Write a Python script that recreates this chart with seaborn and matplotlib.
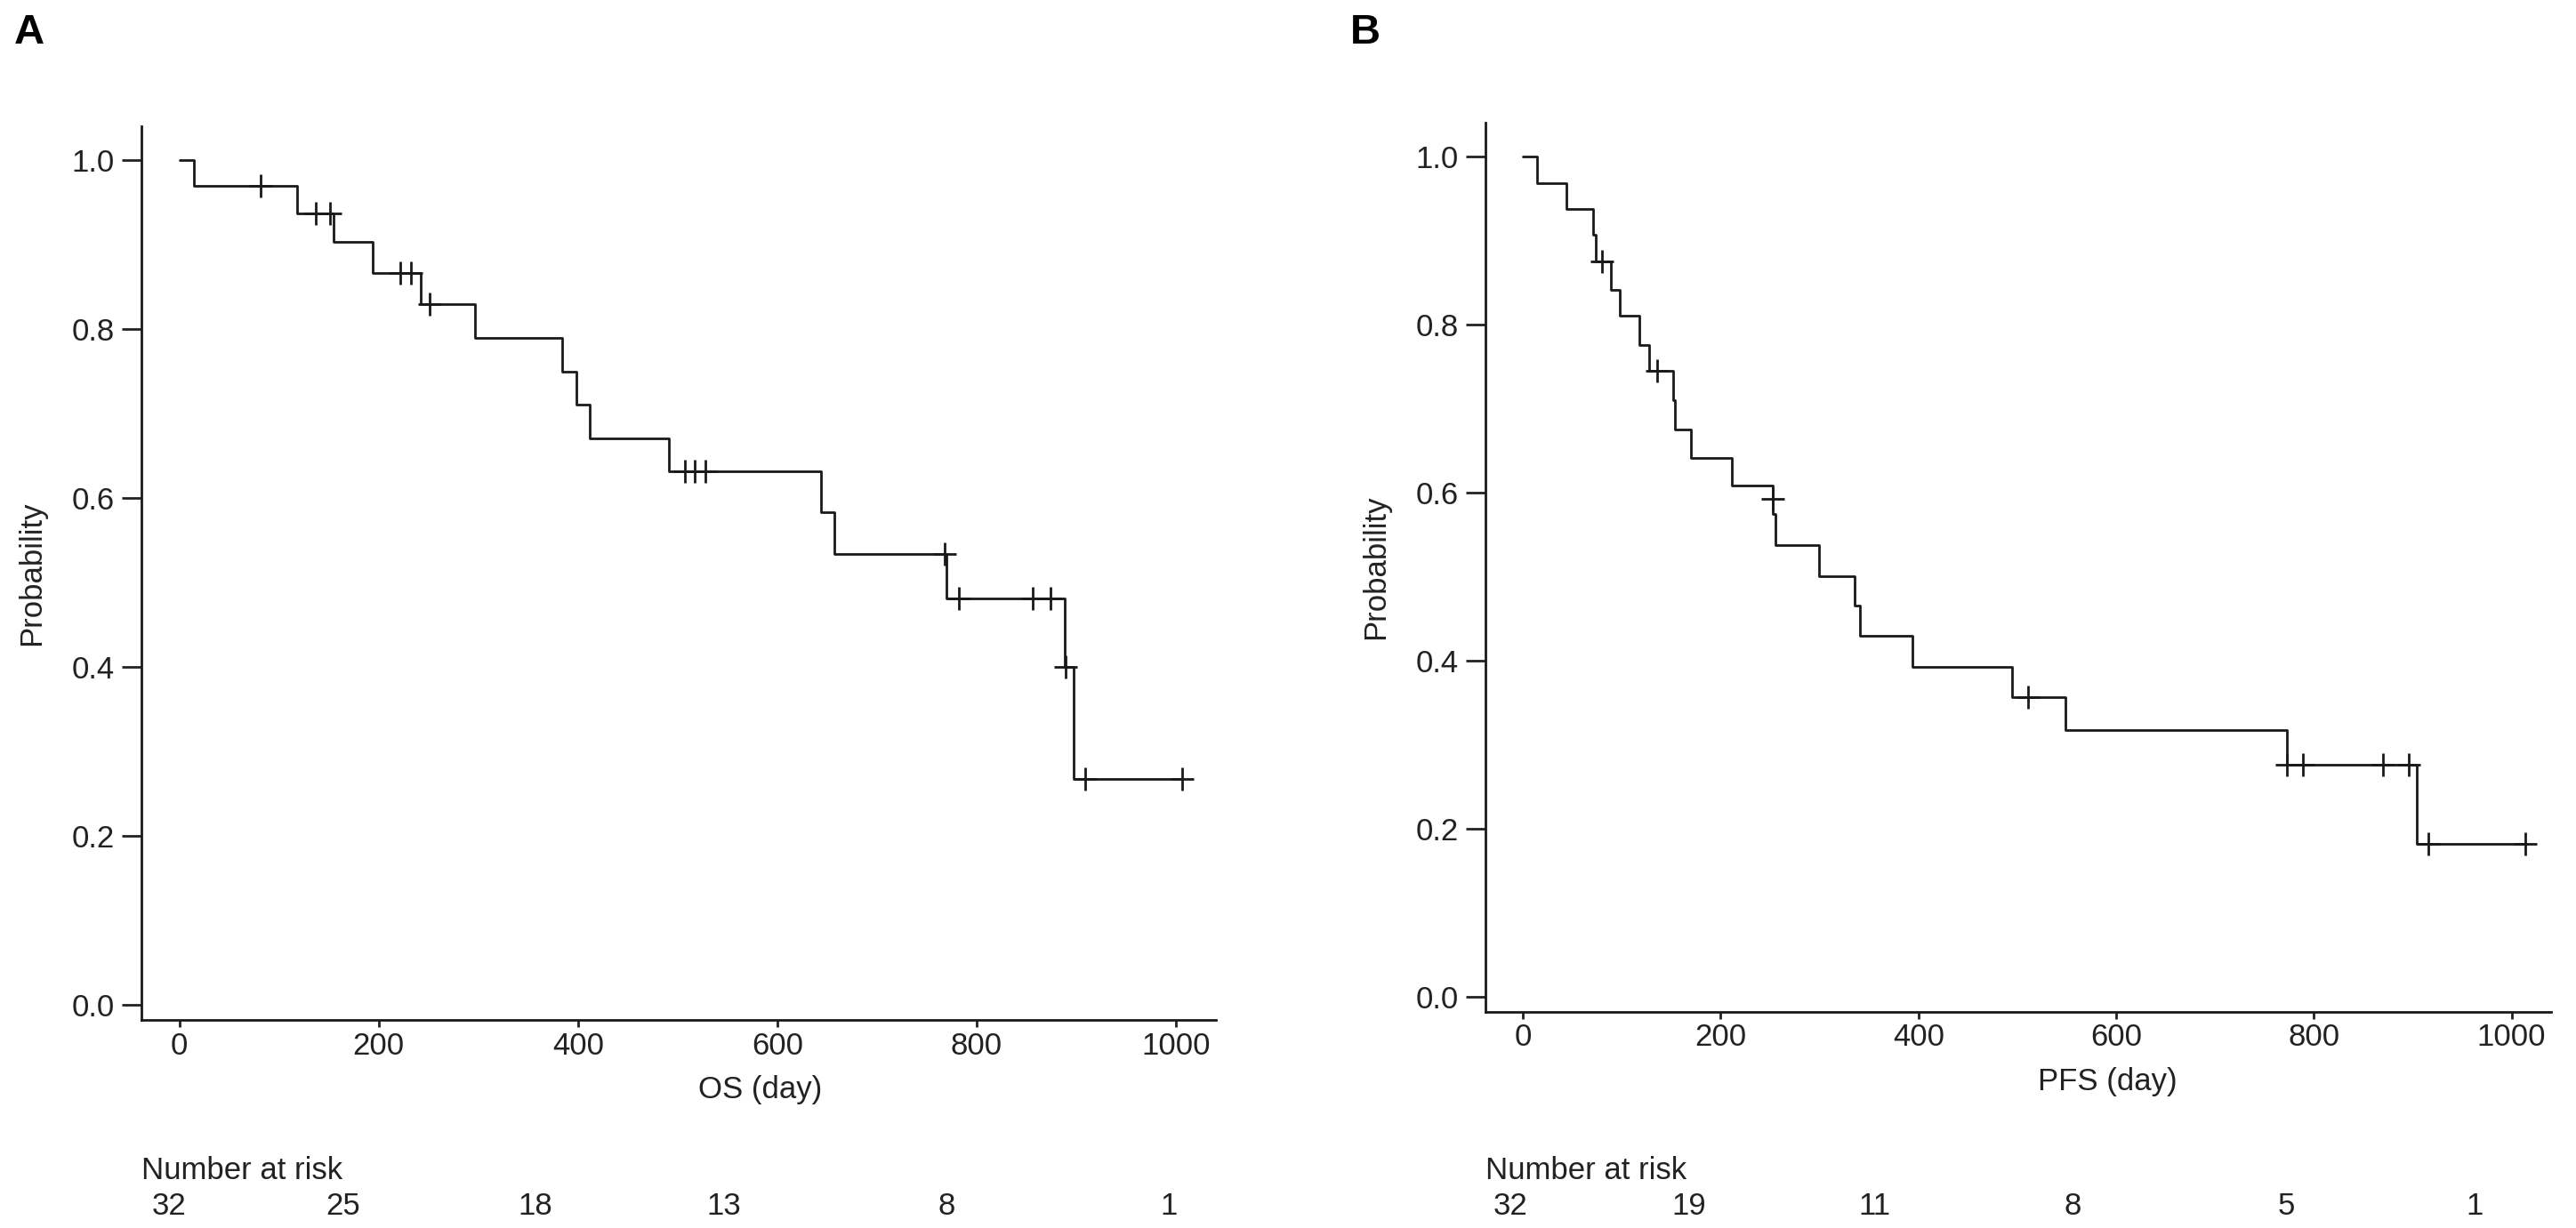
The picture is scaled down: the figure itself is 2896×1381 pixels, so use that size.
import numpy as np
import pandas as pd
import seaborn as sns
import matplotlib.pyplot as plt
import matplotlib.transforms as mtransforms

# panel A: overall survival (step times / survival)
os_time = [0, 15, 118, 155, 194, 242, 297, 384, 398, 412, 491, 644, 657, 770, 888, 897, 1006]
os_surv = [1.0, 0.969, 0.937, 0.903, 0.866, 0.829, 0.789, 0.749, 0.710, 0.670,
           0.632, 0.583, 0.534, 0.481, 0.400, 0.267, 0.267]
os_cens_time = [82, 137, 151, 222, 232, 251, 507, 517, 528, 768, 782, 856, 874, 889, 909, 1006]
os_cens_surv = [0.969, 0.937, 0.937, 0.866, 0.866, 0.829, 0.632, 0.632, 0.632,
                0.534, 0.481, 0.481, 0.481, 0.400, 0.267, 0.267]
os_risk = [32, 25, 18, 13, 8, 1]

# panel B: progression free survival
pfs_time = [0, 14, 44, 71, 74, 89, 98, 118, 128, 152, 154, 170, 211, 253, 255, 299,
            335, 341, 394, 495, 549, 773, 904, 1014]
pfs_surv = [1.0, 0.968, 0.937, 0.907, 0.875, 0.841, 0.810, 0.776, 0.745, 0.710, 0.675,
            0.641, 0.608, 0.574, 0.537, 0.500, 0.465, 0.430, 0.392, 0.357, 0.317,
            0.276, 0.182, 0.182]
pfs_cens_time = [80, 136, 253, 511, 773, 789, 870, 896, 916, 1014]
pfs_cens_surv = [0.875, 0.745, 0.592, 0.357, 0.276, 0.276, 0.276, 0.276, 0.182, 0.182]
pfs_risk = [32, 19, 11, 8, 5, 1]

risk_days = [0, 200, 400, 600, 800, 1000]
y_ticks = [0.0, 0.2, 0.4, 0.6, 0.8, 1.0]

# where the risk numbers sit under each panel (in days)
risk_pos_a = [-10, 164, 357, 546, 770, 993]
risk_pos_b = [-13, 168, 356, 556, 772, 963]

sns.set_style("ticks")
plt.rcParams['font.family'] = ['Liberation Sans', 'DejaVu Sans']
plt.rcParams['text.color'] = '#222222'
plt.rcParams['axes.labelcolor'] = '#222222'
plt.rcParams['xtick.color'] = '#222222'
plt.rcParams['ytick.color'] = '#222222'

W, H = 2896, 1381
fig = plt.figure(figsize=(W / 100, H / 100), dpi=100)


def km_panel(rect, times, surv, ctimes, csurv, risk, risk_pos, xlab, letter, letter_x, label_x):
    ax = fig.add_axes(rect)
    curve = pd.DataFrame({'t': times, 's': surv})
    cens = pd.DataFrame({'t': ctimes, 's': csurv})
    sns.lineplot(data=curve, x='t', y='s', drawstyle='steps-post', estimator=None,
                 color='#1a1a1a', linewidth=2.0, ax=ax)
    sns.scatterplot(data=cens, x='t', y='s', marker='+', s=330, color='#1a1a1a',
                    linewidth=2.0, ax=ax, zorder=3)
    ax.set_xlim(-38, 1040)
    ax.set_ylim(-0.018, 1.04)
    ax.set_xticks(risk_days)
    ax.set_yticks(y_ticks)
    ax.set_yticklabels([f"{v:.1f}" for v in y_ticks])
    ax.tick_params(axis='y', labelsize=25, length=16, width=2, pad=6)
    ax.tick_params(axis='x', labelsize=25, length=6, width=2, pad=3)
    for side in ['top', 'right']:
        ax.spines[side].set_visible(False)
    for side in ['left', 'bottom']:
        ax.spines[side].set_linewidth(2)
        ax.spines[side].set_color('#1a1a1a')
    ax.set_ylabel('Probability', fontsize=25, labelpad=20)
    ax.set_xlabel(xlab, fontsize=25)
    ax.xaxis.set_label_coords(label_x, -0.062)

    # number at risk table
    trans = mtransforms.blended_transform_factory(ax.transData, fig.transFigure)
    fig.text(rect[0], 1 - 1317 / H, 'Number at risk', fontsize=25, ha='left', va='center')
    for d, n in zip(risk_pos, risk):
        ax.text(d, 1 - 1357 / H, str(n), fontsize=25, ha='center', va='center',
                transform=trans)
    fig.text(letter_x, 1 - 37 / H, letter, fontsize=34, fontweight='bold',
             ha='left', va='center', color='black')
    return ax


km_panel([159 / W, 1 - 1147 / H, (1367 - 159) / W, (1147 - 142) / H],
         os_time, os_surv, os_cens_time, os_cens_surv, os_risk, risk_pos_a,
         'OS (day)', 'A', 16 / W, 0.576)
km_panel([1670 / W, 1 - 1138 / H, (2868 - 1670) / W, (1138 - 138) / H],
         pfs_time, pfs_surv, pfs_cens_time, pfs_cens_surv, pfs_risk, risk_pos_b,
         'PFS (day)', 'B', 1518 / W, 0.584)

fig.savefig('out.png', dpi=100, facecolor='white')
